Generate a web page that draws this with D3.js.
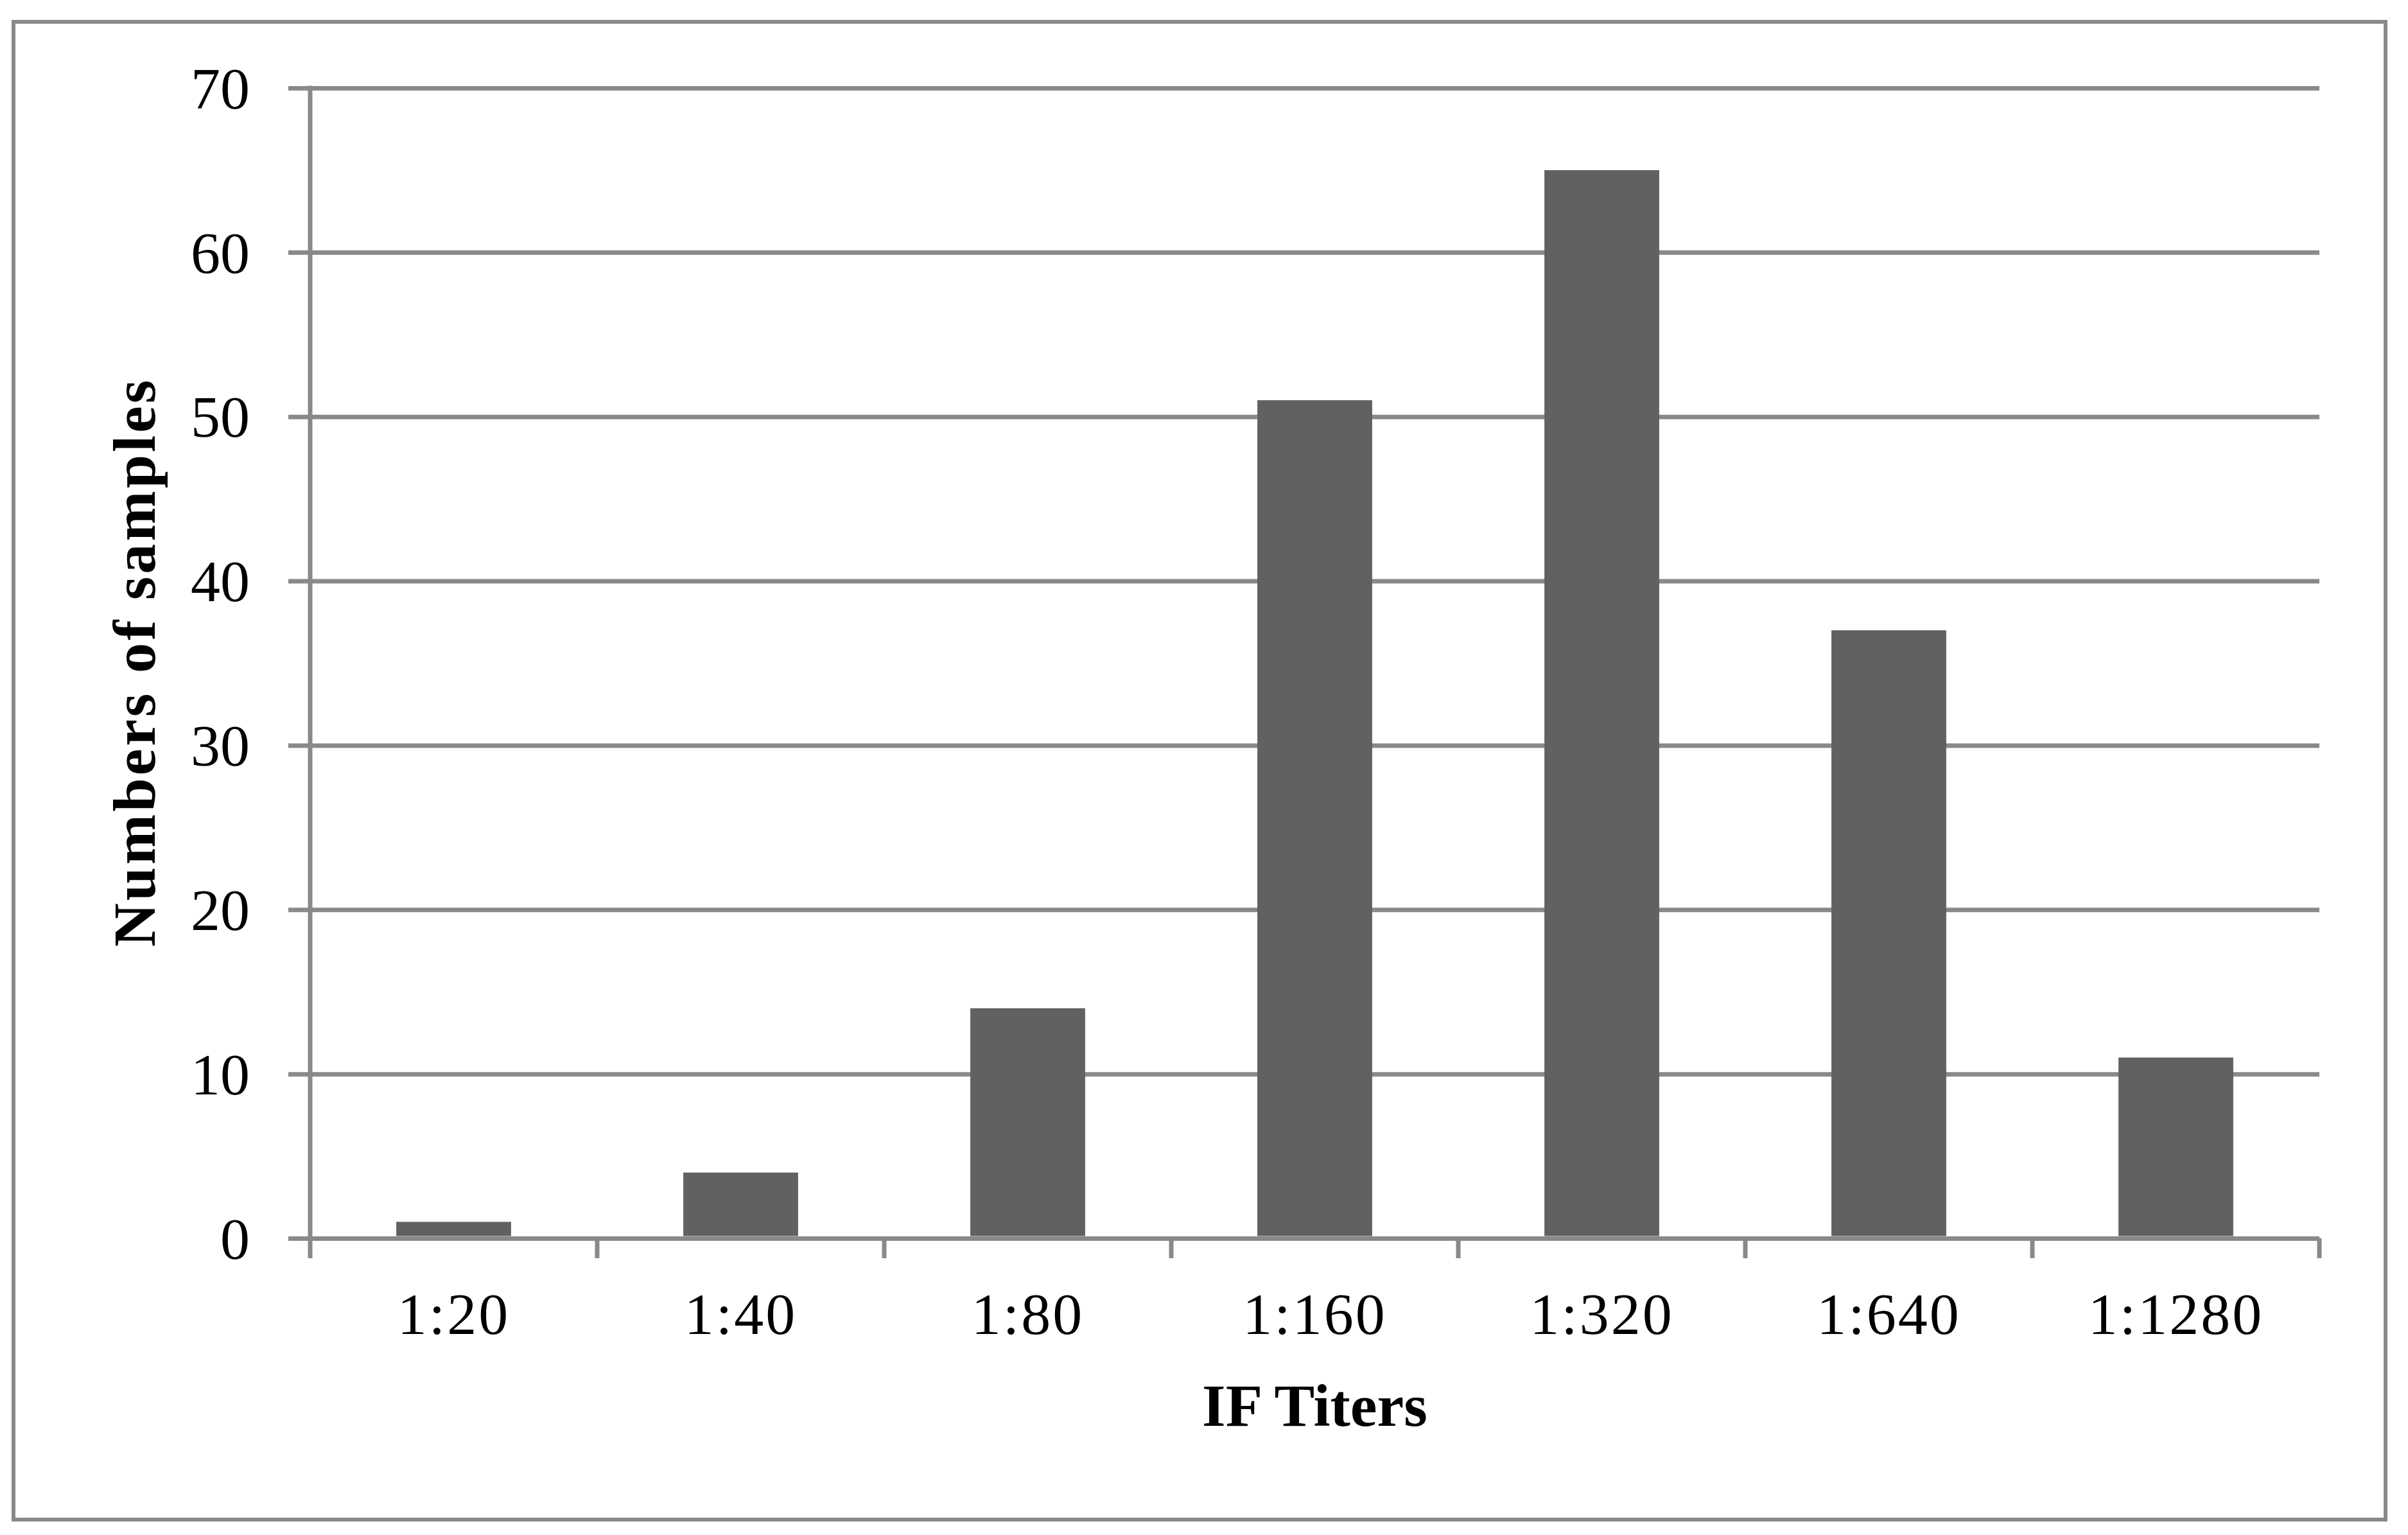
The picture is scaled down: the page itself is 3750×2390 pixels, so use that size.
<!DOCTYPE html>
<html>
<head>
<meta charset="utf-8">
<script src="https://cdn.jsdelivr.net/npm/d3@7"></script>
<style>
  html, body { margin: 0; padding: 0; background: #fff; }
  svg text { font-family: "Liberation Serif", "DejaVu Serif", serif; fill: #000; }
</style>
</head>
<body>
<svg id="chart" width="3750" height="2390"></svg>
<script>
var titers = ['1:20', '1:40', '1:80', '1:160', '1:320', '1:640', '1:1280'];
var samples = [1, 4, 14, 51, 65, 37, 11];
var yTicks = [0, 10, 20, 30, 40, 50, 60, 70];

var svg = d3.select('#chart');
var gray = '#898989';
var lineW = 7;

// outer frame
svg.append('rect')
  .attr('x', 21).attr('y', 34)
  .attr('width', 3694).attr('height', 2332)
  .attr('fill', '#fff')
  .attr('stroke', gray)
  .attr('stroke-width', 6);

var margin = {left: 483, top: 137, right: 3612, bottom: 1928};
var w = margin.right - margin.left;
var h = margin.bottom - margin.top;

var g = svg.append('g')
  .attr('transform', 'translate(' + margin.left + ',' + margin.top + ')');

var x = d3.scaleBand()
  .domain(titers)
  .range([0, w])
  .paddingInner(0.6)
  .paddingOuter(0.3);

var y = d3.scaleLinear()
  .domain([0, 70])
  .range([h, 0]);

// gridlines + y labels (ticks stick out 34px left of the axis)
var tickOut = 34;
var yAxis = g.append('g')
  .attr('class', 'y-axis')
  .attr('transform', 'translate(' + (-tickOut) + ',0)')
  .call(d3.axisLeft(y)
    .tickValues(yTicks)
    .tickSizeInner(-(w + tickOut))
    .tickSizeOuter(0)
    .tickPadding(60));
yAxis.select('.domain').remove();
yAxis.selectAll('.tick line')
  .attr('stroke', gray)
  .attr('stroke-width', lineW);
yAxis.selectAll('.tick text')
  .attr('font-size', 92)
  .attr('dy', '0.34em');

// bars
g.append('g')
  .attr('class', 'bars')
  .selectAll('rect')
  .data(samples)
  .enter()
  .append('rect')
  .attr('x', function(d, i) { return x(titers[i]); })
  .attr('y', function(d) { return y(d); })
  .attr('width', x.bandwidth())
  .attr('height', function(d) { return y(0) - y(d) - lineW / 2; })
  .attr('fill', '#616161');

// x category boundary ticks
var step = x.step();
var bounds = d3.range(titers.length + 1).map(function(i) {
  return x(titers[0]) - step * x.paddingOuter() + i * step;
});
var tickDown = 31;
g.append('g')
  .attr('class', 'x-ticks')
  .selectAll('line')
  .data(bounds)
  .enter()
  .append('line')
  .attr('x1', function(d) { return d; })
  .attr('x2', function(d) { return d; })
  .attr('y1', function(d, i) { return i === 0 ? y(70) - lineW / 2 : y(0); })
  .attr('y2', y(0) + tickDown)
  .attr('stroke', gray)
  .attr('stroke-width', lineW);

// x labels
var xAxis = g.append('g')
  .attr('class', 'x-axis')
  .attr('transform', 'translate(0,' + h + ')')
  .call(d3.axisBottom(x).tickSize(0).tickPadding(84));
xAxis.select('.domain').remove();
xAxis.selectAll('.tick text')
  .attr('font-size', 92)
  .attr('letter-spacing', 3);

// axis titles
svg.append('text')
  .attr('x', margin.left + w / 2)
  .attr('y', 2220)
  .attr('text-anchor', 'middle')
  .attr('font-size', 94)
  .attr('font-weight', 'bold')
  .text('IF Titers');

svg.append('text')
  .attr('transform', 'translate(241,1031) rotate(-90)')
  .attr('text-anchor', 'middle')
  .attr('font-size', 94)
  .attr('font-weight', 'bold')
  .attr('letter-spacing', 4)
  .text('Numbers of samples');
</script>
</body>
</html>
